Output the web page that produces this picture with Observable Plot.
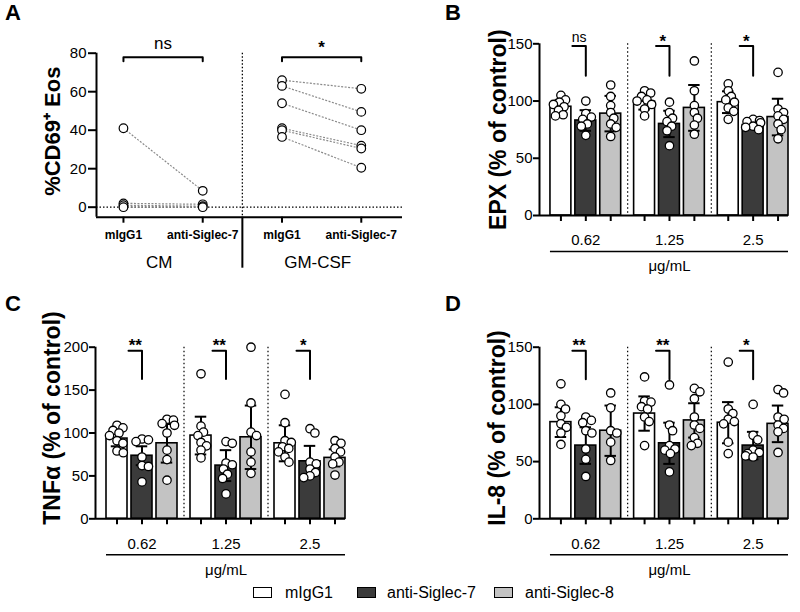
<!DOCTYPE html>
<html>
<head>
<meta charset="utf-8">
<script src="https://cdn.jsdelivr.net/npm/d3@7"></script>
<script src="https://cdn.jsdelivr.net/npm/@observablehq/plot@0.6"></script>
<style>
  body { margin: 0; background: white; }
  #fig { position: relative; width: 800px; height: 612px; background: white; font-family: 'Liberation Sans', Arial, Helvetica, sans-serif; color: black; overflow: hidden; }
  .letter { position: absolute; font-size: 22px; font-weight: bold; line-height: 22px; }
  .sw { position: absolute; width: 19px; height: 11px; box-sizing: border-box; border: 1.5px solid black; }
  .lt { position: absolute; font-size: 16px; line-height: 16px; white-space: nowrap; }
</style>
</head>
<body>
<div id="fig"></div>
<script>
// ---------------- DATA ----------------
// Panel A: %CD69+ Eos, paired donors (mIgG1 -> anti-Siglec-7)
const aConditions = ["CM", "GM-CSF"];
const aTreatments = ["mIgG1", "anti-Siglec-7"];
const cmIgG1   = [41, 2, 1, 0];
const cmAntiS7 = [8.5, 1.5, 0.5, 0];
const gmIgG1   = [66, 63, 54, 41, 40, 36.5];
const gmAntiS7 = [61.5, 49.5, 40, 32, 30.5, 20.5];
const aSig = ["ns", "*"];

// Panels B-D
const doses = ["0.62", "1.25", "2.5"];
const treatments = ["mIgG1", "anti-Siglec-7", "anti-Siglec-8"];
const barColors = ["#ffffff", "#3b3b3b", "#c3c3c3"];

// B: EPX (% of control); rows = doses, columns = treatments
const epxMean = [[95, 83, 89], [99.5, 80, 94], [99, 79, 86]];
const epxSD   = [[6, 9, 15.5], [7, 11.5, 20], [9.5, 3, 16]];
const epxPoints = [
  [[105, 101, 99, 97, 95, 92, 88, 87], [100, 89, 86, 84, 80, 78, 70], [114, 104, 96, 90, 85, 80, 77, 69]],
  [[109, 107, 104, 101, 100, 97, 93, 87], [99, 90, 85, 82, 78, 74, 61], [135, 109, 96, 90, 85, 79, 71]],
  [[115, 109, 104, 101, 99, 94, 91, 84], [84, 83, 82, 81, 78, 77, 75], [125, 93, 90, 87, 84, 80, 75, 67]]
];
const epxSig = ["ns", "*", "*"];

// C: TNFα (% of control)
const tnfMean = [[93.5, 73.5, 88], [97, 62, 95], [88, 67, 71]];
const tnfSD   = [[9, 11, 22.5], [22, 18, 37], [21, 18, 10]];
const tnfPoints = [
  [[109, 106, 103, 100, 97, 91, 88, 79, 77], [93, 92, 90, 72, 62, 61, 43], [116, 115, 111, 109, 100, 80, 69, 45]],
  [[169, 108, 101, 97, 89, 85, 80, 71], [90, 88, 65, 63, 58, 52, 47, 29], [200, 135, 101, 97, 78, 66, 53]],
  [[145, 112, 91, 89, 84, 82, 78, 72, 66], [105, 100, 66, 64, 58, 54, 50, 48], [91, 88, 82, 78, 72, 66, 64, 51]]
];
const tnfSig = ["**", "**", "*"];

// D: IL-8 (% of control)
const il8Mean = [[84.5, 64, 77], [92, 66, 86], [84, 64, 83]];
const il8SD   = [[13, 16, 22], [15, 18, 15], [18, 12, 16]];
const il8Points = [
  [[118, 100, 96, 90, 83, 80, 75, 65], [89, 86, 84, 77, 75, 61, 52, 37], [110, 97, 77, 75, 67, 51]],
  [[124, 103, 102, 98, 96, 89, 85, 64], [117, 82, 77, 64, 61, 60, 57, 41], [114, 111, 105, 89, 82, 79, 71, 66, 64]],
  [[137, 96, 92, 87, 85, 83, 67, 57], [100, 73, 69, 60, 58, 57, 55, 54], [113, 110, 89, 87, 82, 79, 76, 58]]
];
const il8Sig = ["**", "**", "*"];

// ---------------- HELPERS ----------------
const FONT = "'Liberation Sans', Arial, Helvetica, sans-serif";
const fig = document.getElementById("fig");

function place(el, left, top) {
  el.style.position = "absolute";
  el.style.left = left + "px";
  el.style.top = top + "px";
  fig.appendChild(el);
}

// deterministic compact beeswarm: returns x offsets in px (clamped to the bar)
function swarm(values, pxY, minDist, maxOff) {
  const D = minDist;
  const order = d3.range(values.length).sort((a, b) => values[b] - values[a]);
  const placed = [];
  const out = new Array(values.length);
  for (const i of order) {
    const y = values[i] * pxY;
    const intervals = [];
    for (const q of placed) {
      const dy = Math.abs(q.y - y);
      if (dy < D) {
        const w = Math.sqrt(D * D - dy * dy);
        intervals.push([q.x - w, q.x + w]);
      }
    }
    const cands = [0];
    intervals.forEach(([a, b]) => cands.push(a, b));
    cands.sort((a, b) => Math.abs(a) - Math.abs(b) || b - a);
    let x = cands.find(c => intervals.every(([a, b]) => c <= a + 1e-6 || c >= b - 1e-6));
    x = Math.max(-maxOff, Math.min(maxOff, x));
    placed.push({x, y});
    out[i] = x;
  }
  return out;
}

const baseStyle = {fontFamily: FONT, fontSize: "15px", color: "black", background: "transparent", overflow: "visible"};

// ---------------- PANEL A ----------------
(function panelA() {
  const width = 404, height = 300, mL = 96, mR = 2, mT = 52.7, mB = 83.3;
  const frameH = height - mT - mB;
  const xD = [-0.34, 3.52], yD = [-5.2, 80];
  const pairs = [];
  cmIgG1.forEach((v, i) => pairs.push({x1: 0, y1: v, x2: 1, y2: cmAntiS7[i]}));
  gmIgG1.forEach((v, i) => pairs.push({x1: 2, y1: v, x2: 3, y2: gmAntiS7[i]}));
  const dots = pairs.flatMap(p => [{x: p.x1, y: p.y1}, {x: p.x2, y: p.y2}]);
  const tickCats = aConditions.flatMap(() => aTreatments);
  const brackets = aConditions.flatMap((c, i) => [
    {c, x: 2 * i, y: 75.8}, {c, x: 2 * i, y: 77.9}, {c, x: 2 * i + 1, y: 77.9}, {c, x: 2 * i + 1, y: 75.8}
  ]);
  const svg = Plot.plot({
    width, height, marginLeft: mL, marginRight: mR, marginTop: mT, marginBottom: mB,
    style: baseStyle,
    x: {domain: xD, axis: null},
    y: {domain: yD},
    marks: [
      Plot.ruleY([0], {stroke: "black", strokeWidth: 1.3, strokeDasharray: "1.5,2"}),
      Plot.ruleX([1.5], {stroke: "black", strokeWidth: 1.3, strokeDasharray: "1.5,2"}),
      Plot.ruleX([1.5], {stroke: "black", strokeWidth: 2, insetTop: frameH, insetBottom: -51}),
      Plot.link(pairs, {x1: "x1", y1: "y1", x2: "x2", y2: "y2", stroke: "#8a8a8a", strokeWidth: 1.2, strokeDasharray: "2,1.5"}),
      Plot.dot(dots, {x: "x", y: "y", r: 4.3, fill: "white", stroke: "black", strokeWidth: 1.2}),
      Plot.ruleX([xD[0]], {stroke: "black", strokeWidth: 2}),
      Plot.ruleY([yD[0]], {stroke: "black", strokeWidth: 2}),
      Plot.ruleX(tickCats, {x: (d, i) => i, insetTop: frameH, insetBottom: -6, stroke: "black", strokeWidth: 2}),
      Plot.text(tickCats, {x: (d, i) => i, y: yD[0], dy: 18, text: d => d, fontSize: 12, fontWeight: "bold"}),
      Plot.text(aConditions, {x: (d, i) => 2 * i + 0.45, y: yD[0], dy: 45, text: d => d, fontSize: 17}),
      Plot.axisY({ticks: [0, 20, 40, 60, 80], tickSize: 8, tickPadding: 2, fontSize: 15, strokeWidth: 2, label: null}),
      Plot.line(brackets, {x: "x", y: "y", z: "c", stroke: "black", strokeWidth: 2}),
      Plot.text(aSig.filter(s => s === "ns"), {x: 0.5, y: 84.9, text: d => d, fontSize: 17}),
      Plot.text(aSig.filter(s => s !== "ns"), {x: 2.5, y: 84.9, dy: 4, text: d => d, fontSize: 17, fontWeight: "bold"}),
      Plot.text(["%CD69⁺ Eos"], {frameAnchor: "left", textAnchor: "middle", dx: -44, dy: -4, rotate: -90, fontSize: 22, fontWeight: "bold"})
    ]
  });
  place(svg, 0, 0);
})();

// ---------------- BAR PANELS ----------------
function barPanel(o) {
  const {means, sds, points, sig, yMax, yTicks, title, titleDx, titleDy, sigTop, sigBottom, sigTextY,
         width, height, marginLeft, marginRight, marginTop, marginBottom, left, top} = o;
  const GROUP = 3.36, HALF = 0.42, CAP = 0.23;
  const pos = (g, t) => g * GROUP + t;
  const xD = [-0.86, pos(2, 2) + HALF];
  const frameW = width - marginLeft - marginRight;
  const frameH = height - marginTop - marginBottom;
  const pxX = frameW / (xD[1] - xD[0]);
  const pxY = frameH / yMax;
  const bars = [], dots = [];
  doses.forEach((dose, g) => treatments.forEach((tr, t) => {
    bars.push({dose, tr, x: pos(g, t), mean: means[g][t], sd: sds[g][t]});
    const vals = points[g][t];
    const offs = swarm(vals, pxY, 6.5, 7.5);
    vals.forEach((v, i) => dots.push({x: pos(g, t) + offs[i] / pxX, y: v}));
  }));
  const brackets = doses.flatMap((d, g) => [
    {g, x: pos(g, 0) + 0.46, y: sigTop}, {g, x: pos(g, 1), y: sigTop}, {g, x: pos(g, 1), y: sigBottom}
  ]);
  const sigRows = sig.map((s, g) => ({s, g}));
  const svg = Plot.plot({
    width, height, marginLeft, marginRight, marginTop, marginBottom,
    style: baseStyle,
    x: {domain: xD, axis: null},
    y: {domain: [0, yMax]},
    color: {domain: treatments, range: barColors},
    marks: [
      Plot.ruleX(doses.slice(1), {x: (d, i) => pos(i, 2) + (GROUP - 2) / 2, stroke: "black", strokeWidth: 1.2, strokeDasharray: "1.5,2.5"}),
      Plot.rect(bars, {x1: d => d.x - HALF, x2: d => d.x + HALF, y1: 0, y2: "mean", fill: "tr", stroke: "black", strokeWidth: 1.6}),
      Plot.ruleX(bars, {x: "x", y1: d => d.mean - d.sd, y2: d => d.mean + d.sd, stroke: "black", strokeWidth: 2}),
      Plot.ruleY(bars, {x1: d => d.x - CAP, x2: d => d.x + CAP, y: d => d.mean + d.sd, stroke: "black", strokeWidth: 2}),
      Plot.ruleY(bars, {x1: d => d.x - CAP, x2: d => d.x + CAP, y: d => d.mean - d.sd, stroke: "black", strokeWidth: 2}),
      Plot.dot(dots, {x: "x", y: "y", r: 4.2, fill: "white", stroke: "black", strokeWidth: 1.3}),
      Plot.ruleX([xD[0]], {stroke: "black", strokeWidth: 2}),
      Plot.ruleY([0], {stroke: "black", strokeWidth: 2}),
      Plot.ruleX(bars, {x: "x", insetTop: frameH, insetBottom: -6, stroke: "black", strokeWidth: 2}),
      Plot.axisY({ticks: yTicks, tickSize: 6, tickPadding: 1, fontSize: 15, strokeWidth: 2, label: null}),
      Plot.text(doses, {x: (d, g) => pos(g, 1), y: 0, dy: 25, text: d => d, fontSize: 15}),
      Plot.ruleY([0], {x1: -HALF, x2: xD[1], dy: 36, stroke: "black", strokeWidth: 1.6}),
      Plot.text(["μg/mL"], {x: pos(1, 1), y: 0, dy: 51, text: d => d, fontSize: 15}),
      Plot.line(brackets, {x: "x", y: "y", z: "g", stroke: "black", strokeWidth: 2}),
      Plot.text(sigRows.filter(d => d.s === "ns"), {x: d => pos(d.g, 0) + 0.73, y: sigTextY, text: "s", fontSize: 14}),
      Plot.text(sigRows.filter(d => d.s !== "ns"), {x: d => pos(d.g, 0) + 0.73, y: sigTextY, dy: 4, text: "s", fontSize: 17, fontWeight: "bold"}),
      Plot.text([title], {frameAnchor: "left", textAnchor: "middle", dx: titleDx, dy: titleDy, rotate: -90, fontSize: 23, fontWeight: "bold"})
    ]
  });
  place(svg, left, top);
}

barPanel({means: epxMean, sds: epxSD, points: epxPoints, sig: epxSig, yMax: 150, yTicks: [0, 50, 100, 150],
  title: "EPX (% of control)", titleDx: -41, titleDy: 0, sigTop: 148, sigBottom: 122, sigTextY: 155.5,
  width: 400, height: 300, marginLeft: 139, marginRight: 12, marginTop: 43.3, marginBottom: 85, left: 400, top: 0});

barPanel({means: tnfMean, sds: tnfSD, points: tnfPoints, sig: tnfSig, yMax: 200, yTicks: [0, 50, 100, 150, 200],
  title: "TNFα (% of control)", titleDx: -43, titleDy: -15, sigTop: 196, sigBottom: 163, sigTextY: 206.6,
  width: 400, height: 300, marginLeft: 95, marginRight: 55, marginTop: 46.7, marginBottom: 81.7, left: 0, top: 300});

barPanel({means: il8Mean, sds: il8SD, points: il8Points, sig: il8Sig, yMax: 150, yTicks: [0, 50, 100, 150],
  title: "IL-8 (% of control)", titleDx: -42, titleDy: -5, sigTop: 147, sigBottom: 122, sigTextY: 155,
  width: 400, height: 300, marginLeft: 139, marginRight: 12, marginTop: 46.7, marginBottom: 81.7, left: 400, top: 300});

// ---------------- PANEL LETTERS ----------------
[["A", 5, 2], ["B", 445, 2], ["C", 5, 293], ["D", 445, 293]].forEach(([t, x, y]) => {
  const d = document.createElement("div");
  d.className = "letter"; d.textContent = t;
  place(d, x, y);
});

// ---------------- LEGEND ----------------
const legendPos = [[253, 285], [357, 387], [494, 525]];
treatments.forEach((t, i) => {
  const sw = document.createElement("div");
  sw.className = "sw"; sw.style.background = barColors[i];
  place(sw, legendPos[i][0], 587);
  const lt = document.createElement("div");
  lt.className = "lt"; lt.textContent = t;
  place(lt, legendPos[i][1], 584.5);
});
</script>
</body>
</html>
